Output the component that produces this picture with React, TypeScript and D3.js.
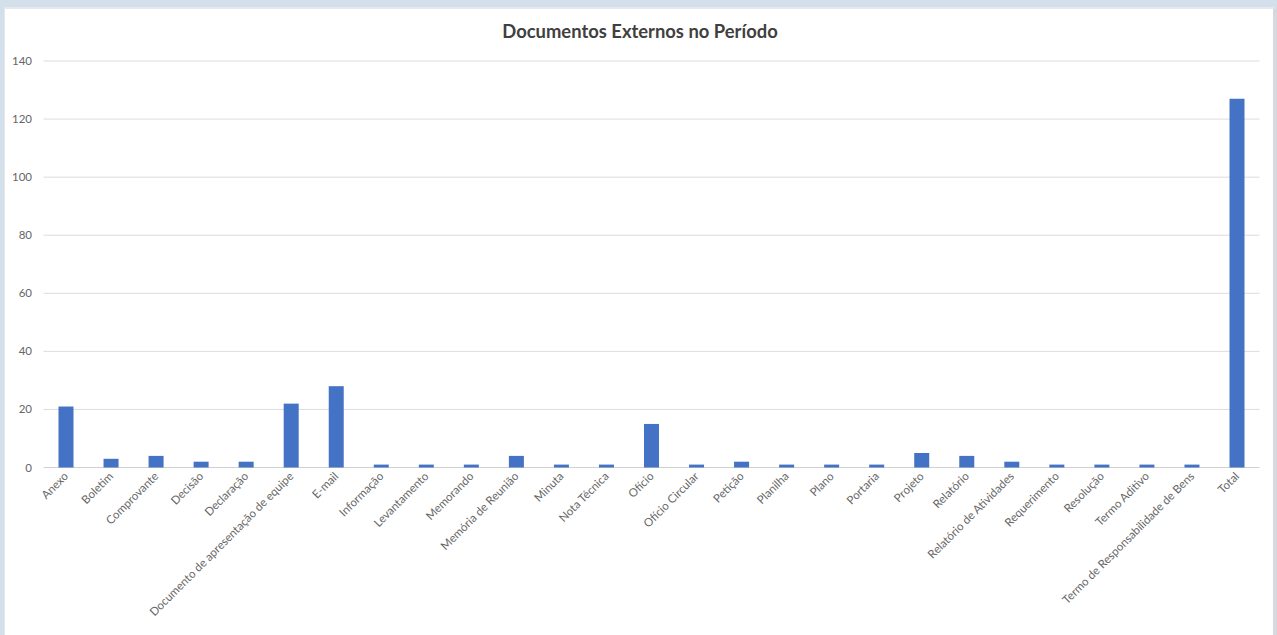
import React from "react";
import * as d3 from "d3";

const categories: string[] = [
  "Anexo",
  "Boletim",
  "Comprovante",
  "Decisão",
  "Declaração",
  "Documento de apresentação de equipe",
  "E-mail",
  "Informação",
  "Levantamento",
  "Memorando",
  "Memória de Reunião",
  "Minuta",
  "Nota Técnica",
  "Ofício",
  "Ofício Circular",
  "Petição",
  "Planilha",
  "Plano",
  "Portaria",
  "Projeto",
  "Relatório",
  "Relatório de Atividades",
  "Requerimento",
  "Resolução",
  "Termo Aditivo",
  "Termo de Responsabilidade de Bens",
  "Total",
];

const values: number[] = [
  21, 3, 4, 2, 2, 22, 28, 1, 1, 1, 4, 1, 1, 15, 1, 2, 1, 1, 1, 5, 4, 2, 1, 1, 1, 1, 127,
];

const yTicks: number[] = [0, 20, 40, 60, 80, 100, 120, 140];

const title = "Documentos Externos no Período";

const W = 1277;
const H = 635;
const plot = { left: 43.5, right: 1259.5, top: 61, bottom: 467.5 };

export default function App() {
  const x = d3
    .scaleBand<string>()
    .domain(categories)
    .range([plot.left, plot.right])
    .paddingInner(0.667)
    .paddingOuter(0.333);
  const y = d3.scaleLinear().domain([0, 140]).range([plot.bottom, plot.top]);
  const font = "Lato, 'Open Sans', sans-serif";

  return (
    <div style={{ position: "absolute", left: 0, top: 0 }}>
      <svg width={W} height={H} style={{ display: "block" }}>
        {/* frame */}
        <rect x={0} y={0} width={W} height={H} fill="#d3dfea" />
        <rect x={4} y={7} width={1270} height={H - 7} fill="#e6e8ea" />
        <rect x={5} y={9} width={1268} height={H - 9} fill="#ffffff" />
        <rect x={1273} y={9} width={4} height={H - 9} fill="#d6d9dd" />

        <text
          x={640}
          y={38}
          textAnchor="middle"
          fontFamily={font}
          fontWeight={700}
          fontSize={18.4}
          fill="#404040"
        >
          {title}
        </text>

        {yTicks.map((t) => (
          <g key={t}>
            <line
              x1={plot.left}
              x2={plot.right}
              y1={y(t)}
              y2={y(t)}
              stroke={t === 0 ? "#d0d0d0" : "#dcdcdc"}
              strokeWidth={1}
            />
            <text
              x={32}
              y={y(t)}
              dy="0.35em"
              textAnchor="end"
              fontFamily={font}
              fontSize={11.5}
              fill="#666666"
            >
              {t}
            </text>
          </g>
        ))}

        {categories.map((c, i) => (
          <rect
            key={c}
            x={x(c)!}
            y={y(values[i])}
            width={x.bandwidth()}
            height={y(0) - y(values[i])}
            fill="#4472c4"
          />
        ))}

        {categories.map((c) => {
          const cx = x(c)! + x.bandwidth() / 2 + 3;
          const cy = 477;
          return (
            <text
              key={c}
              x={cx}
              y={cy}
              textAnchor="end"
              transform={`rotate(-45 ${cx} ${cy})`}
              fontFamily={font}
              fontSize={11.5}
              fill="#666666"
            >
              {c}
            </text>
          );
        })}
      </svg>
    </div>
  );
}
